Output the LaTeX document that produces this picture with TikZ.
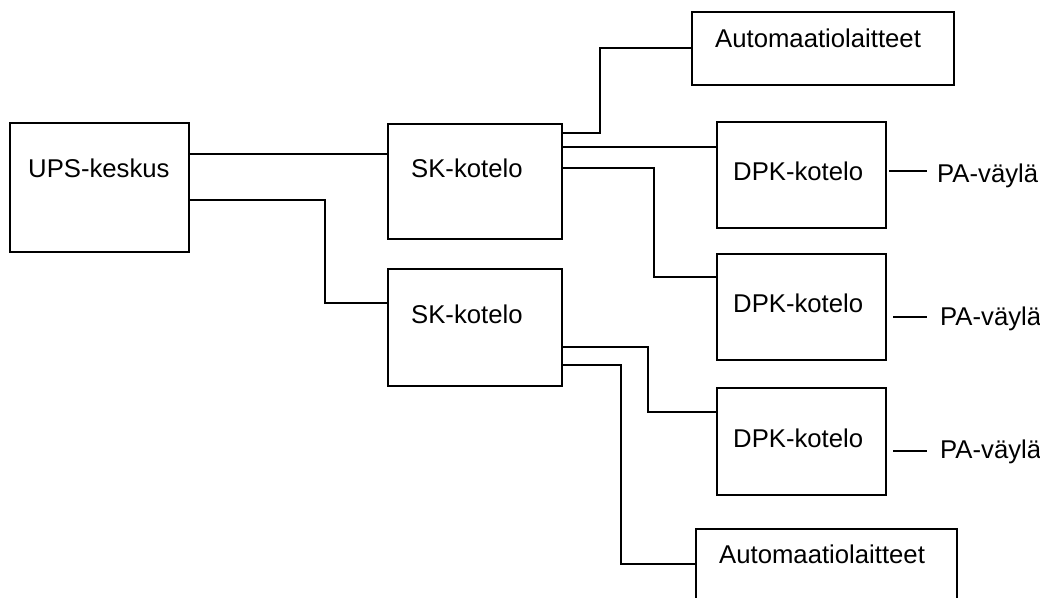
\documentclass[tikz,border=0pt]{standalone}
\usepackage{fontspec}
\setmainfont{Liberation Sans}
\begin{document}
\begin{tikzpicture}[x=1pt,y=-1pt,
  box/.style={draw=black,line width=2pt,rectangle,inner sep=0pt},
  lbl/.style={anchor=base west,inner sep=0pt,font=\fontsize{25.7}{30}\selectfont},
  wire/.style={draw=black,line width=2pt}]
\useasboundingbox (0,0) rectangle (1040,597);
\clip (0,0) rectangle (1040,597);
% boxes
\node[box,minimum width=179pt,minimum height=129pt] (ups) at (99.5,187.5) {};
\node[box,minimum width=174pt,minimum height=115pt] (sk1) at (475,181.5) {};
\node[box,minimum width=174pt,minimum height=117pt] (sk2) at (475,327.5) {};
\node[box,minimum width=262pt,minimum height=73pt] (auto1) at (823,48.5) {};
\node[box,minimum width=169pt,minimum height=106pt] (dpk1) at (801.5,175) {};
\node[box,minimum width=169pt,minimum height=106pt] (dpk2) at (801.5,307) {};
\node[box,minimum width=169pt,minimum height=107pt] (dpk3) at (801.5,441.5) {};
\node[box,minimum width=261pt,minimum height=73pt] (auto2) at (826.5,565.5) {};
% texts
\node[lbl] (upsT) at (28,177) {UPS-keskus};
\node[lbl] (sk1T) at (411,177) {SK-kotelo};
\node[lbl] (sk2T) at (411,323) {SK-kotelo};
\node[lbl] (auto1T) at (715,47) {Automaatiolaitteet};
\node[lbl] (auto2T) at (719,563) {Automaatiolaitteet};
\node[lbl] (dpk1T) at (733,180) {DPK-kotelo};
\node[lbl] (dpk2T) at (733,312) {DPK-kotelo};
\node[lbl] (dpk3T) at (733,447) {DPK-kotelo};
\node[lbl] (pa1) at (937,182) {PA-väylä};
\node[lbl] (pa2) at (940,325) {PA-väylä};
\node[lbl] (pa3) at (940,458) {PA-väylä};
% connectors
\draw[wire] (ups.east |- 0,154) -- (sk1.west |- 0,154);
\draw[wire] (ups.east |- 0,200) -| (325,303) -- (sk2.west |- 0,303);
\draw[wire] (sk1.east |- 0,133) -| (600,48) -- (auto1.west |- 0,48);
\draw[wire] (sk1.east |- 0,147) -- (dpk1.west |- 0,147);
\draw[wire] (sk1.east |- 0,168) -| (654,277) -- (dpk2.west |- 0,277);
\draw[wire] (sk2.east |- 0,347) -| (648,412) -- (dpk3.west |- 0,412);
\draw[wire] (sk2.east |- 0,365) -| (621,564) -- (auto2.west |- 0,564);
% PA bus stubs
\coordinate (pa1a) at (889,171); \coordinate (pa1b) at (927,171);
\coordinate (pa2a) at (893,317); \coordinate (pa2b) at (927,317);
\coordinate (pa3a) at (893,451); \coordinate (pa3b) at (927,451);
\draw[wire] (pa1a) -- (pa1b);
\draw[wire] (pa2a) -- (pa2b);
\draw[wire] (pa3a) -- (pa3b);
\end{tikzpicture}
\end{document}
